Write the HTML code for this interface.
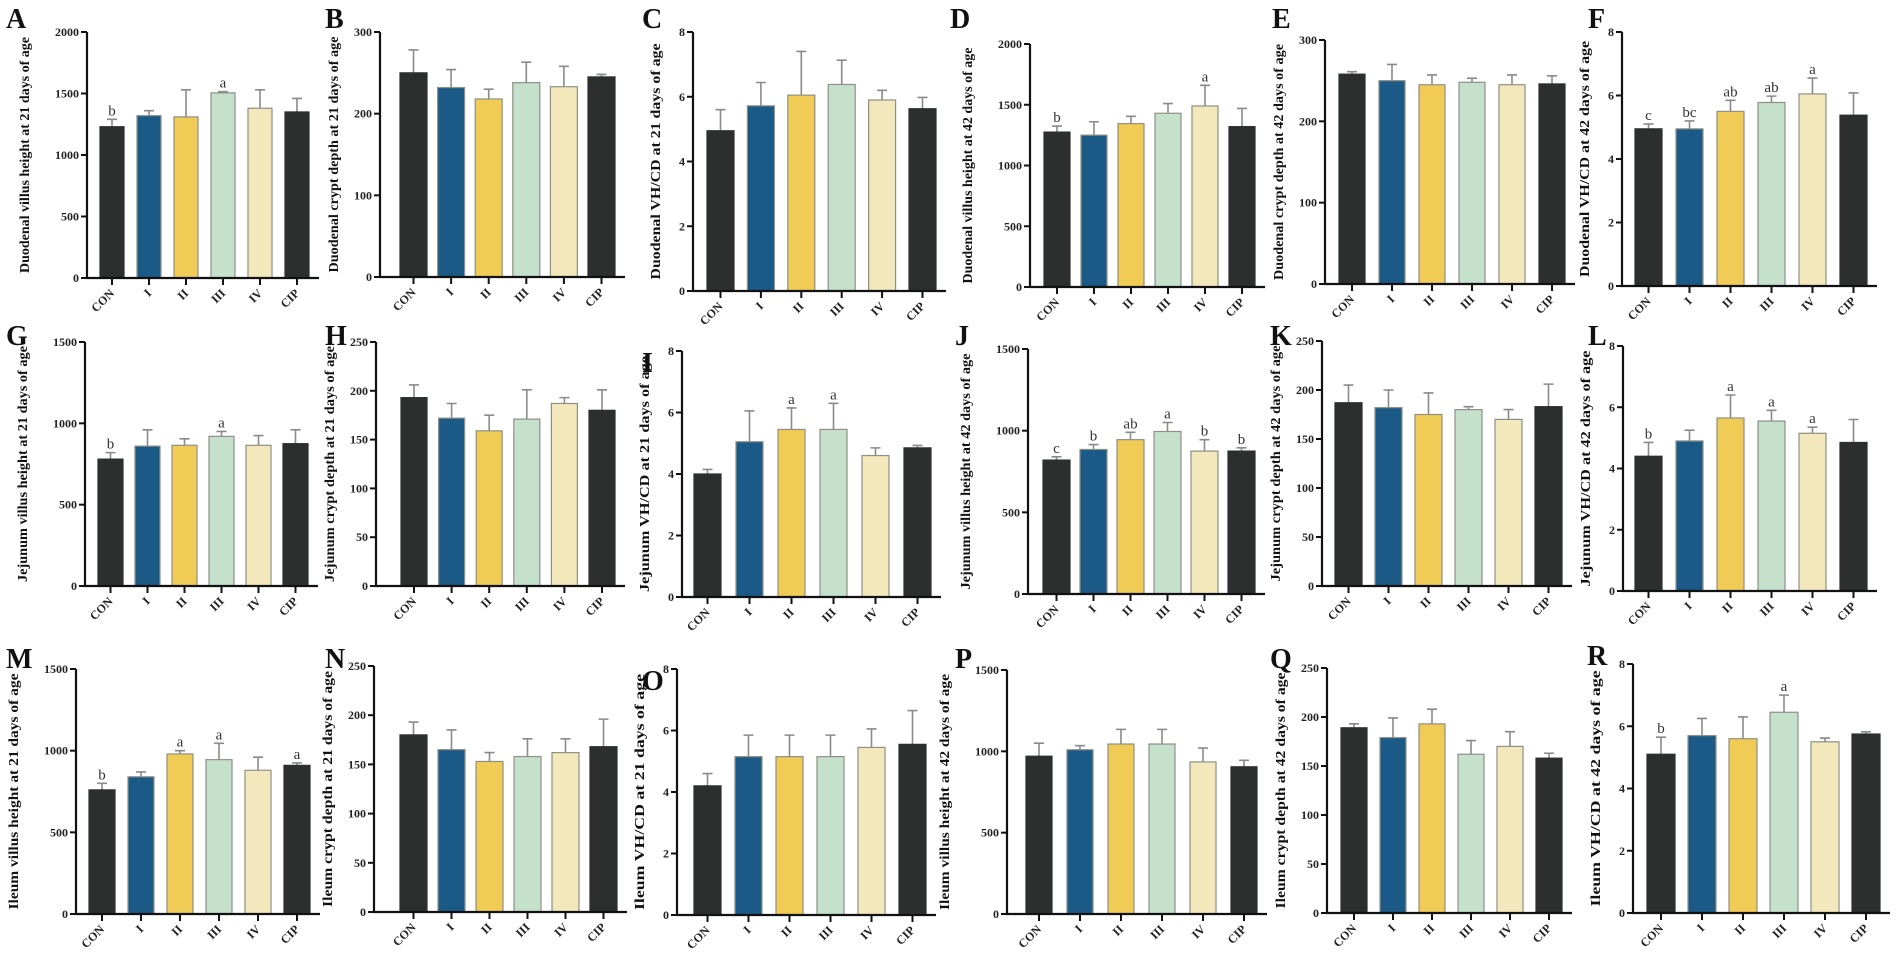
<!DOCTYPE html>
<html><head><meta charset="utf-8">
<style>
html,body{margin:0;padding:0;background:#fff;}
svg{display:block;font-family:"Liberation Serif",serif;}
</style></head>
<body>
<svg id="fig" width="1902" height="956" viewBox="0 0 1902 956" xmlns="http://www.w3.org/2000/svg"></svg>
<script>
const categories = ["CON","I","II","III","IV","CIP"];
const barColors = ["#2d2f2e","#1b5a87","#f0cb55","#c5e0cb","#f3e8bb","#2d2f2e"];

const A_mean=[1230,1320,1310,1505,1380,1350]; const A_err=[60,40,220,10,150,110]; const A_sig=["b","","","a","",""];
const B_mean=[250,232,218,238,233,245]; const B_err=[28,22,12,25,25,3]; const B_sig=["","","","","",""];
const C_mean=[4.95,5.72,6.05,6.38,5.9,5.63]; const C_err=[0.65,0.72,1.35,0.75,0.3,0.35]; const C_sig=["","","","","",""];
const D_mean=[1275,1250,1345,1430,1490,1320]; const D_err=[50,110,60,80,170,150]; const D_sig=["b","","","","a",""];
const E_mean=[258,250,245,248,245,246]; const E_err=[3,20,12,5,12,10]; const E_sig=["","","","","",""];
const F_mean=[4.95,4.95,5.5,5.78,6.05,5.38]; const F_err=[0.15,0.25,0.35,0.2,0.5,0.7]; const F_sig=["c","bc","ab","ab","a",""];
const G_mean=[780,860,865,920,865,875]; const G_err=[40,100,40,30,60,85]; const G_sig=["b","","","a","",""];
const H_mean=[193,172,159,171,187,180]; const H_err=[13,15,16,30,6,21]; const H_sig=["","","","","",""];
const I_mean=[4.0,5.05,5.45,5.45,4.6,4.85]; const I_err=[0.15,1.0,0.7,0.85,0.25,0.08]; const I_sig=["","","a","a","",""];
const J_mean=[820,885,945,995,875,875]; const J_err=[20,30,45,55,70,20]; const J_sig=["c","b","ab","a","b","b"];
const K_mean=[187,182,175,180,170,183]; const K_err=[18,18,22,3,10,23]; const K_sig=["","","","","",""];
const L_mean=[4.4,4.9,5.65,5.55,5.15,4.85]; const L_err=[0.45,0.35,0.75,0.35,0.2,0.75]; const L_sig=["b","","a","a","a",""];
const M_mean=[760,840,980,945,880,910]; const M_err=[40,30,20,100,80,15]; const M_sig=["b","","a","a","","a"];
const N_mean=[180,165,153,158,162,168]; const N_err=[13,20,9,18,14,28]; const N_sig=["","","","","",""];
const O_mean=[4.2,5.15,5.15,5.15,5.45,5.55]; const O_err=[0.4,0.7,0.7,0.7,0.6,1.1]; const O_sig=["","","","","",""];
const P_mean=[970,1010,1045,1045,935,905]; const P_err=[80,25,90,90,85,40]; const P_sig=["","","","","",""];
const Q_mean=[189,179,193,162,170,158]; const Q_err=[4,20,15,14,15,5]; const Q_sig=["","","","","",""];
const R_mean=[5.1,5.7,5.6,6.45,5.5,5.75]; const R_err=[0.55,0.55,0.7,0.55,0.12,0.07]; const R_sig=["b","","","a","",""];

const titles = {
A:"Duodenal villus height at 21 days of age",B:"Duodenal crypt depth at 21 days of age",C:"Duodenal  VH/CD at 21 days of age",
D:"Duodenal villus height at 42 days of age",E:"Duodenal crypt depth at 42 days of age",F:"Duodenal  VH/CD at 42 days of age",
G:"Jejunum villus height at 21 days of age",H:"Jejunum crypt depth at 21 days of age",I:"Jejunum VH/CD at 21 days of age",
J:"Jejunum villus height at 42 days of age",K:"Jejunum crypt depth at 42 days of age",L:"Jejunum  VH/CD at 42 days of age",
M:"Ileum villus height at 21 days of age",N:"Ileum crypt depth at 21 days of age",O:"Ileum VH/CD at 21 days of age",
P:"Ileum villus height at 42 days of age",Q:"Ileum crypt depth at 42 days of age",R:"Ileum  VH/CD at 42 days of age"};
const dataMap = {A:[A_mean,A_err,A_sig],B:[B_mean,B_err,B_sig],C:[C_mean,C_err,C_sig],D:[D_mean,D_err,D_sig],E:[E_mean,E_err,E_sig],F:[F_mean,F_err,F_sig],
G:[G_mean,G_err,G_sig],H:[H_mean,H_err,H_sig],I:[I_mean,I_err,I_sig],J:[J_mean,J_err,J_sig],K:[K_mean,K_err,K_sig],L:[L_mean,L_err,L_sig],
M:[M_mean,M_err,M_sig],N:[N_mean,N_err,N_sig],O:[O_mean,O_err,O_sig],P:[P_mean,P_err,P_sig],Q:[Q_mean,Q_err,Q_sig],R:[R_mean,R_err,R_sig]};
const axisMax = {A:2000,B:300,C:8,D:2000,E:300,F:8,G:1500,H:250,I:8,J:1500,K:250,L:8,M:1500,N:250,O:8,P:1500,Q:250,R:8};
const axisStep = {A:500,B:100,C:2,D:500,E:100,F:2,G:500,H:50,I:2,J:500,K:50,L:2,M:500,N:50,O:2,P:500,Q:50,R:2};

// layout (pixels): axis x, y of zero, y of max, first bar left, spacing, bar width, letter x/y, title offset
const layout = {
A:[87,278,32,100,37,24,6,28,58], B:[380,277,32,400,37.6,27,325,28,42], C:[693,291,32,707,40.4,27,642,28,33],
D:[1030,287,44,1044,37,26,950,28,58], E:[1325,284,40,1339,40,26,1272,28,42], F:[1622,286,32,1635,41,27,1588,28,33],
G:[85,586,342,98,37,25,6,345,58], H:[376,586,342,401,37.6,26,325,345,42], I:[682,597,351,694,42,27,642,372,33],
J:[1028,594,349,1043,37,27,955,345,58], K:[1322,586,341,1335,40,27,1270,345,42], L:[1623,591,346,1635,41,27,1588,345,33],
M:[76,914,669,89,39,26,6,668,58], N:[374,912,666,400,38,27,325,668,42], O:[677,915,669,694,41,27,642,690,33],
P:[1007,914,670,1026,41,26,955,668,58], Q:[1327,913,668,1341,39,26,1270,668,42], R:[1633,913,664,1647,41,28,1587,665,33]};

const NS="http://www.w3.org/2000/svg";
const svg=document.getElementById('fig');
function mk(tag,attrs,parent){const e=document.createElementNS(NS,tag);for(const k in attrs)e.setAttribute(k,attrs[k]);(parent||svg).appendChild(e);return e;}

for (const id of Object.keys(layout)) {
  const [ax,y0,yT,fl,sp,bw,lx,ly,toff]=layout[id];
  const [means,errs,sigs]=dataMap[id];
  const max=axisMax[id], step=axisStep[id];
  const yS=v=>y0-(v/max)*(y0-yT);
  const xS=i=>fl+i*sp;
  const g=mk('g',{});
  
  
  const letter=mk('text',{x:lx,y:ly,'font-size':28,'font-weight':'bold',fill:'#111'},g);
  letter.textContent=id;
  
  
  const xEnd=xS(5)+bw+10;
  // bars
  for(let i=0;i<6;i++){
    const x=xS(i), yv=yS(means[i]), ye=yS(means[i]+errs[i]), cx=x+bw/2;
    const eb=mk('path',{d:`M${cx},${yv}V${ye}M${cx-5},${ye}H${cx+5}`,stroke:'#8a8a8a','stroke-width':1.6,fill:'none'},g);
    
    
    const r=mk('rect',{x:x,y:yv,width:bw,height:y0-yv,fill:barColors[i],stroke:(i==0||i==5)?'#2d2f2e':'#8f8f85','stroke-width':1.2},g);
    
    
    if(sigs[i]){
      const t=mk('text',{x:cx,y:ye-4,'text-anchor':'middle','font-size':15,fill:'#333'},g);
      t.textContent=sigs[i];
      
      
    }
    const tk=mk('line',{x1:cx,y1:y0,x2:cx,y2:y0+7,stroke:'#111','stroke-width':2},g);
    
    
    const lb=mk('text',{x:cx+3,y:y0+16,'text-anchor':'end','font-size':12,'font-weight':'bold',fill:'#222',transform:`rotate(-45 ${cx+3} ${y0+16})`},g);
    lb.textContent=categories[i];
    
    
  }
  // axes
  const yl=mk('line',{x1:ax,y1:yT,x2:ax,y2:y0+1,stroke:'#111','stroke-width':2.2},g);
  
  
  const xl=mk('line',{x1:ax-1,y1:y0,x2:xEnd,y2:y0,stroke:'#111','stroke-width':2.2},g);
  
  
  for(let v=0;v<=max+1e-9;v+=step){
    const y=yS(v);
    const t=mk('line',{x1:ax-6,y1:y,x2:ax,y2:y,stroke:'#111','stroke-width':2},g);
    
    
    const l=mk('text',{x:ax-8,y:y+4,'text-anchor':'end','font-size':12,'font-weight':'bold',fill:'#222'},g);
    l.textContent=String(Math.round(v*100)/100);
    
    
  }
  const ty=(y0+yT)/2, tx=ax-toff;
  const tt=mk('text',{x:tx,y:ty,'text-anchor':'middle','font-size':14,'font-weight':'bold',fill:'#111',textLength:236,lengthAdjust:'spacingAndGlyphs',transform:`rotate(-90 ${tx} ${ty})`},g);
  tt.textContent=titles[id];
  
  
}
</script>
</body></html>
